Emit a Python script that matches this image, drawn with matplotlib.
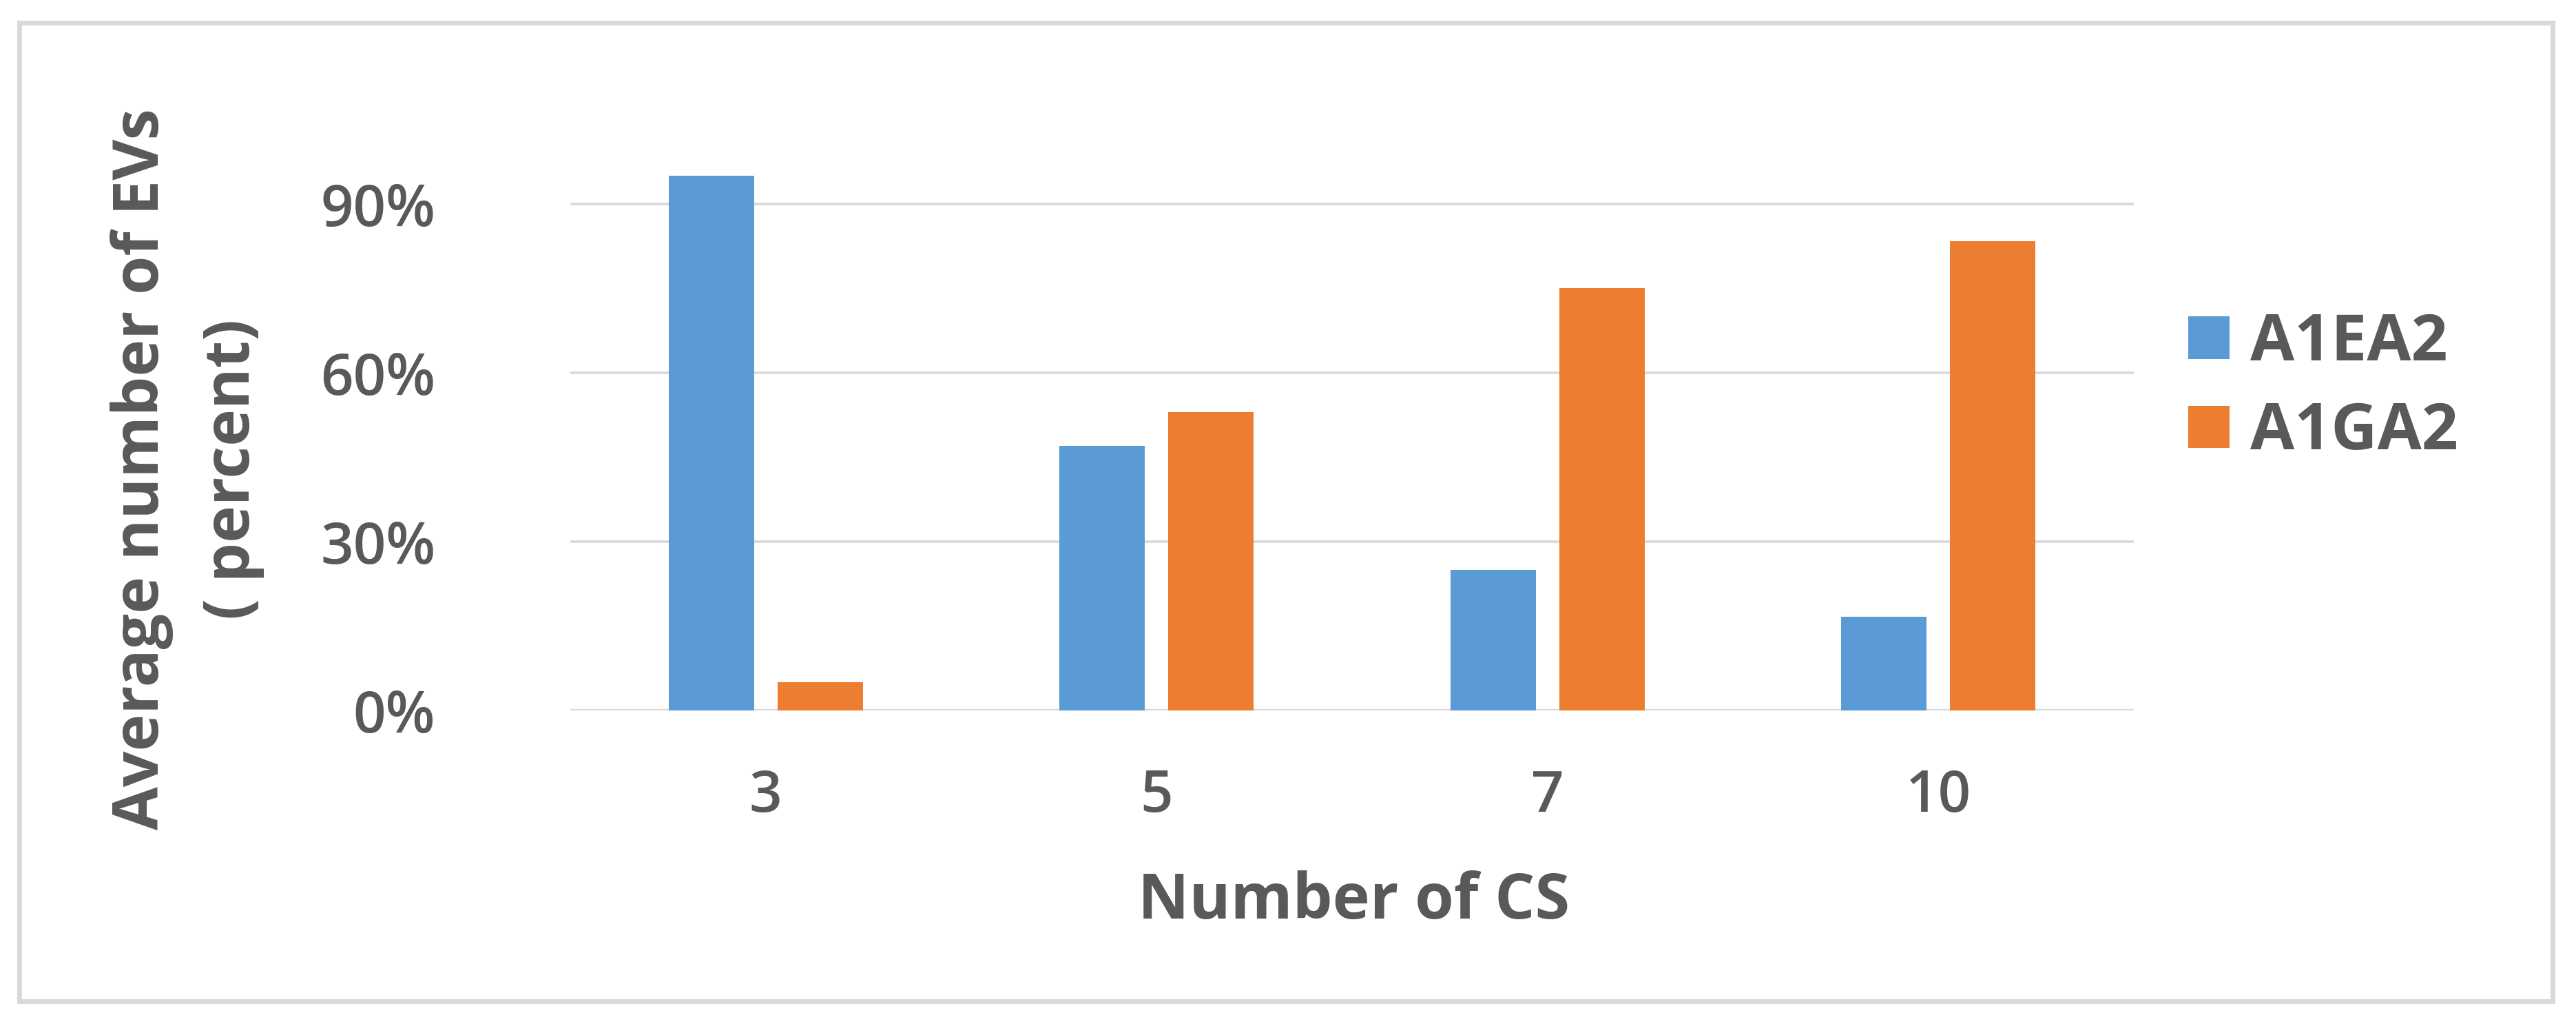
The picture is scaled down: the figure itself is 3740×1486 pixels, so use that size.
import matplotlib
matplotlib.use("Agg")
import matplotlib.pyplot as plt
import numpy as np
from matplotlib.patches import Rectangle

plt.rcParams['font.family'] = ['Open Sans', 'DejaVu Sans']

# data (fractions)
categories = ["3", "5", "7", "10"]
a1ea2 = [0.95, 0.47, 0.25, 0.167]
a1ga2 = [0.05, 0.53, 0.75, 0.833]
series_names = ["A1EA2", "A1GA2"]
yticks = [0.0, 0.3, 0.6, 0.9]
ytick_labels = ["0%", "30%", "60%", "90%"]

W, H = 3741, 1486
DPI = 100
TXT = '#595959'
GRID = '#d9d9d9'
BLUE = '#5b9bd5'
ORANGE = '#ed7d31'

fig = plt.figure(figsize=(W / DPI, H / DPI), dpi=DPI)

# plot area in pixels: left 828, right 3098, bottom 1031, top 214
ax = fig.add_axes([828 / W, 1 - 1031 / H, (3098 - 828) / W, (1031 - 214) / H])

x = np.arange(len(categories))
bw = 0.2185
off = bw / 2 + 0.03
ax.bar(x - off, a1ea2, width=bw, color=BLUE, label=series_names[0], zorder=3)
ax.bar(x + off, a1ga2, width=bw, color=ORANGE, label=series_names[1], zorder=3)

ax.set_xlim(-0.5, len(categories) - 0.5)
ax.set_ylim(0, 1.0)
ax.set_yticks(yticks)
ax.set_yticklabels(ytick_labels)
ax.set_xticks(x)
ax.set_xticklabels(categories)
ax.grid(axis='y', color=GRID, linewidth=2.6, zorder=0)
ax.grid(axis='x', visible=False)
for s in ax.spines.values():
    s.set_visible(False)
ax.axhline(0, color=GRID, linewidth=3, zorder=2)
ax.tick_params(axis='both', length=0, labelcolor=TXT, labelsize=60)
ax.tick_params(axis='y', pad=141)
ax.tick_params(axis='x', pad=60)
for lab in ax.get_yticklabels() + ax.get_xticklabels():
    lab.set_fontweight('semibold')

# axis titles
fig.text(1966 / W, 1 - 1333 / H, "Number of CS", ha='center', va='baseline',
         fontsize=66, fontweight='bold', color=TXT)
fig.text(230 / W, 1 - 681 / H, "Average number of EVs", rotation=90,
         rotation_mode='anchor', ha='center', va='baseline',
         fontsize=65.5, fontweight='bold', color=TXT)
fig.text(362 / W, 1 - 681 / H, "( percent)", rotation=90,
         rotation_mode='anchor', ha='center', va='baseline',
         fontsize=65.5, fontweight='bold', color=TXT)

leg = ax.legend(loc='center left', bbox_to_anchor=(3177 / W, 1 - 563 / H),
                bbox_transform=fig.transFigure, frameon=False,
                prop={'size': 67, 'weight': 'bold'}, handlelength=0.645,
                handleheight=0.645, handletextpad=0.32, labelspacing=0.39,
                borderpad=0, borderaxespad=0)
for t in leg.get_texts():
    t.set_color(TXT)

# outer light-gray frame
fig.add_artist(Rectangle((28 / W, 1 - 1453 / H), (3706 - 28) / W, (1453 - 33) / H,
                         transform=fig.transFigure, fill=False,
                         edgecolor=GRID, linewidth=5))

fig.savefig("out.png", dpi=DPI)
